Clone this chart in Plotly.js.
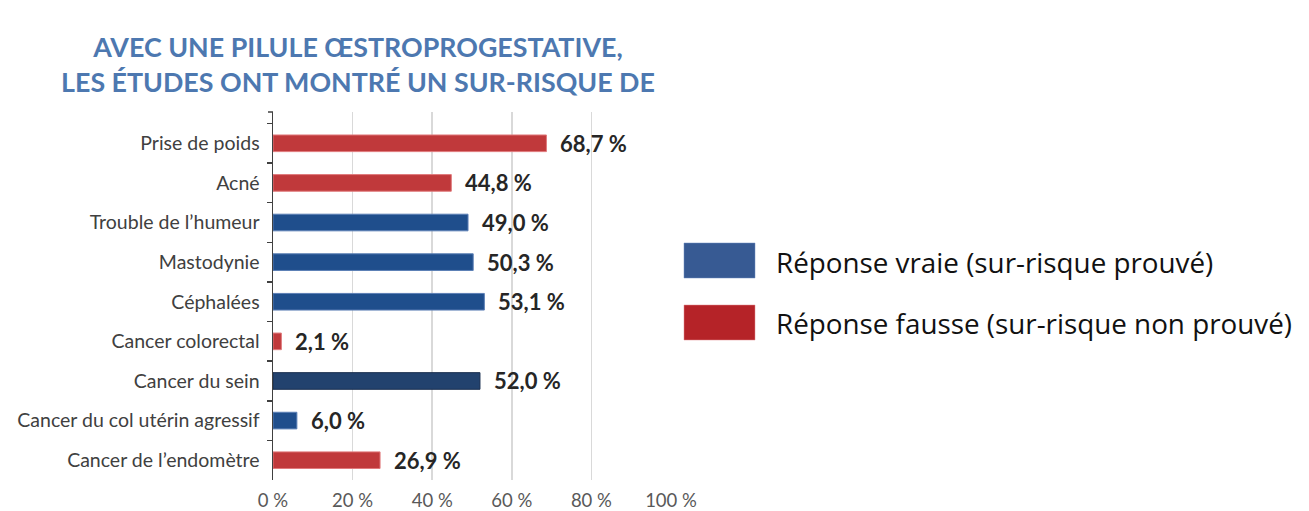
<!DOCTYPE html>
<html>
<head>
<meta charset="utf-8">
<script src="https://cdn.plot.ly/plotly-3.0.1.min.js"></script>
<style>html,body{margin:0;padding:0;background:#fff;}#chart{width:1309px;height:511px;}</style>
</head>
<body>
<div id="chart"></div>
<script>
// ---- data ----
const categories = [
  "Prise de poids",
  "Acné",
  "Trouble de l’humeur",
  "Mastodynie",
  "Céphalées",
  "Cancer colorectal",
  "Cancer du sein",
  "Cancer du col utérin agressif",
  "Cancer de l’endomètre"
];
const values = [68.7, 44.8, 49.0, 50.3, 53.1, 2.1, 52.0, 6.0, 26.9];
const valueLabels = ["68,7 %", "44,8 %", "49,0 %", "50,3 %", "53,1 %", "2,1 %", "52,0 %", "6,0 %", "26,9 %"];
const proven = [false, false, true, true, true, false, true, true, false];
const xTickValues = [0, 20, 40, 60, 80, 100];
const xTickLabels = ["0 %", "20 %", "40 %", "60 %", "80 %", "100 %"];
const legendLabels = ["Réponse vraie (sur-risque prouvé)", "Réponse fausse (sur-risque non prouvé)"];
const titleLines = ["AVEC UNE PILULE ŒSTROPROGESTATIVE,", "LES ÉTUDES ONT MONTRÉ UN SUR-RISQUE DE"];

// ---- styles ----
const BLUE = "#1f4e8c", BLUE_DARK = "#22426e", RED = "#c0393b";
const LEG_BLUE = "#375a93", LEG_RED = "#b52328";
const barColors = categories.map((c, i) => proven[i] ? (c === "Cancer du sein" ? BLUE_DARK : BLUE) : RED);
const barLines = categories.map((c, i) => proven[i] ? (c === "Cancer du sein" ? "#1a2f4f" : "#5b7fb5") : "#e07a7c");

const trace = {
  type: "bar",
  orientation: "h",
  x: values,
  y: categories,
  marker: { color: barColors, line: { color: barLines, width: 1 } },
  hoverinfo: "x+y",
  showlegend: false
};

const labelAnnotations = categories.map((c, i) => ({
  x: values[i], y: c, xref: "x", yref: "y",
  text: valueLabels[i], showarrow: false,
  xanchor: "left", yanchor: "middle", xshift: 12,
  font: { family: "Lato, sans-serif", size: 22, color: "#262626", weight: "bold" }
}));

const L = 273, W = 398, T = 112, H = 368;
const px = v => (v - L) / W;
const py = v => (T + H - v) / H;

const legendShapes = [
  { type: "rect", xref: "paper", yref: "paper", x0: px(684), x1: px(755), y0: py(278), y1: py(243), fillcolor: LEG_BLUE, line: { width: 0.5, color: "#6f8fc0" } },
  { type: "rect", xref: "paper", yref: "paper", x0: px(684), x1: px(755), y0: py(340), y1: py(305), fillcolor: LEG_RED, line: { width: 0.5, color: "#e08a8c" } },
  { type: "line", xref: "paper", yref: "paper", x0: px(268), x1: 0, y0: 1, y1: 1, line: { width: 1.5, color: "#404040" } }
];
const legendAnnotations = [
  { xref: "paper", yref: "paper", x: px(774), y: py(262), xanchor: "left", yanchor: "middle", showarrow: false, text: legendLabels[0], font: { family: "Open Sans, sans-serif", size: 27.8, color: "#111" } },
  { xref: "paper", yref: "paper", x: px(774), y: py(323), xanchor: "left", yanchor: "middle", showarrow: false, text: legendLabels[1], font: { family: "Open Sans, sans-serif", size: 27.8, color: "#111" } }
];

const layout = {
  width: 1309, height: 511,
  margin: { l: L, r: 1309 - L - W, t: T, b: 511 - T - H, pad: 0 },
  paper_bgcolor: "#fff", plot_bgcolor: "#fff",
  bargap: 0.58,
  title: {
    text: titleLines.join("<br>"),
    x: 358 / 1309, xanchor: "center", xref: "container",
    y: 1 - 57 / 511, yanchor: "top", yref: "container",
    font: { family: "Lato, sans-serif", size: 26.8, color: "#4d78b0", weight: "bold" }
  },
  xaxis: {
    range: [0, 100], tickvals: xTickValues, ticktext: xTickLabels,
    showgrid: true, gridcolor: "#d9d9d9", gridwidth: 1.5,
    zeroline: false, showline: false, ticks: "",
    tickfont: { family: "Lato, sans-serif", size: 18.5, color: "#595959" },
    ticklabelstandoff: 7, fixedrange: true
  },
  yaxis: {
    range: [8.5, -0.79],
    showline: true, linecolor: "#404040", linewidth: 1.5,
    ticks: "outside", tickson: "boundaries", ticklen: 5, tickwidth: 1.5, tickcolor: "#404040",
    showgrid: false, zeroline: false,
    tickfont: { family: "Lato, sans-serif", size: 19.5, color: "#404040" },
    ticklabelstandoff: 8, fixedrange: true
  },
  shapes: legendShapes,
  annotations: labelAnnotations.concat(legendAnnotations),
  showlegend: false
};

Plotly.newPlot("chart", [trace], layout, { displayModeBar: false, staticPlot: true });
</script>
</body>
</html>
